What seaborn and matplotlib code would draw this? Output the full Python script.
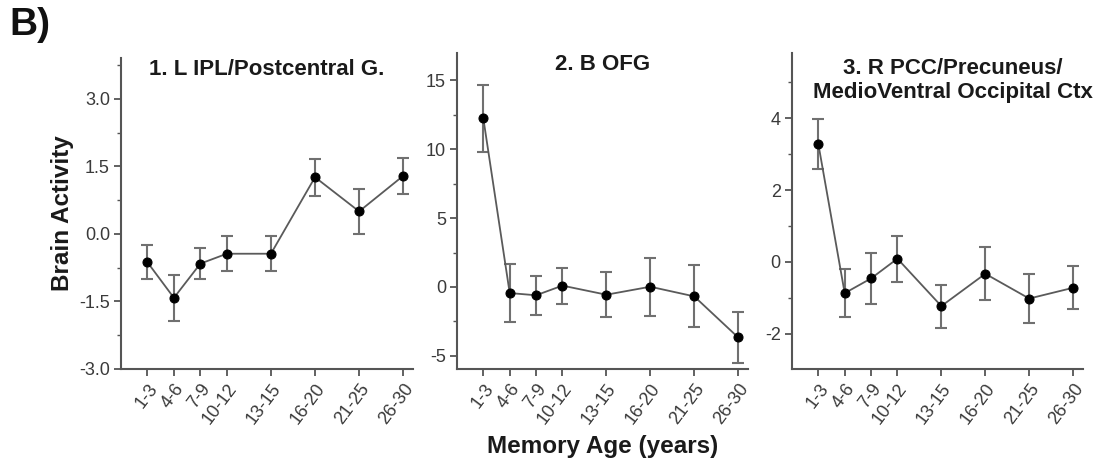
import numpy as np
import pandas as pd
import seaborn as sns
import matplotlib.pyplot as plt
from matplotlib.ticker import MultipleLocator

sns.set_style("white")
plt.rcParams['font.family'] = ['Liberation Sans', 'DejaVu Sans']

# Data
age_bins = ['1-3', '4-6', '7-9', '10-12', '13-15', '16-20', '21-25', '26-30']
age_pos = [2, 5, 8, 11, 16, 21, 26, 31]

ipl_mean = [-0.63, -1.42, -0.66, -0.44, -0.44, 1.26, 0.50, 1.29]
ipl_se = [0.38, 0.51, 0.35, 0.39, 0.39, 0.41, 0.50, 0.40]

ofg_mean = [12.23, -0.44, -0.60, 0.10, -0.56, 0.02, -0.68, -3.66]
ofg_se = [2.42, 2.10, 1.40, 1.30, 1.63, 2.10, 2.25, 1.88]

pcc_mean = [3.28, -0.87, -0.46, 0.09, -1.23, -0.33, -1.02, -0.72]
pcc_se = [0.70, 0.66, 0.72, 0.64, 0.60, 0.74, 0.68, 0.60]

titles = ['1. L IPL/Postcentral G.', '2. B OFG',
          '3. R PCC/Precuneus/\nMedioVentral Occipital Ctx']
ylims = [(-3.0, 3.91), (-5.95, 17.0), (-2.98, 5.82)]
yticks = [[-3.0, -1.5, 0.0, 1.5, 3.0], [-5, 0, 5, 10, 15], [-2, 0, 2, 4]]
yminor = [0.75, 2.5, 1.0]
yfmt = ['{:.1f}', '{:d}', '{:d}']

fig = plt.figure(figsize=(11.1, 4.65), dpi=100)
boxes = [[0.109, 0.2065, 0.263, 0.669],
         [0.4117, 0.2065, 0.262, 0.680],
         [0.7135, 0.2065, 0.262, 0.680]]

spine_c = '#555555'
tick_c = '#3a3a3a'

for i, (m, s) in enumerate([(ipl_mean, ipl_se), (ofg_mean, ofg_se), (pcc_mean, pcc_se)]):
    ax = fig.add_axes(boxes[i])
    df = pd.DataFrame({'pos': age_pos, 'mean': m, 'se': s})
    ax.errorbar(df['pos'], df['mean'], yerr=df['se'], fmt='none',
                ecolor='#707070', elinewidth=1.5, capsize=4, capthick=1.5, zorder=2)
    sns.lineplot(data=df, x='pos', y='mean', ax=ax, color='#5a5a5a', linewidth=1.3,
                 marker='o', markersize=6.5, markerfacecolor='black',
                 markeredgecolor='black', zorder=3)
    ax.set_xlim(-1, 32.1)
    ax.set_ylim(*ylims[i])
    ax.set_xticks(age_pos)
    ax.set_xticklabels(age_bins, rotation=53, ha='right', rotation_mode='anchor',
                       fontsize=13, color=tick_c)
    ax.set_yticks(yticks[i])
    ax.set_yticklabels([yfmt[i].format(v) for v in yticks[i]], fontsize=13,
                       color=tick_c)
    ax.yaxis.set_minor_locator(MultipleLocator(yminor[i]))
    ax.tick_params(axis='both', which='major', direction='out', length=5,
                   width=1.3, color=spine_c, left=True, bottom=True, pad=3)
    ax.tick_params(axis='y', which='minor', direction='out', length=3,
                   width=1.0, color=spine_c, left=True)
    for side in ['top', 'right']:
        ax.spines[side].set_visible(False)
    for side in ['left', 'bottom']:
        ax.spines[side].set_color(spine_c)
        ax.spines[side].set_linewidth(1.5)
    ax.set_xlabel('')
    ax.set_ylabel('')
    ax.text(0.5 if i < 2 else 0.553, 0.995 if i < 2 else 0.985, titles[i],
            transform=ax.transAxes, ha='center', va='top', fontsize=16,
            fontweight='bold', color='#1a1a1a', linespacing=1.2)
    if i == 0:
        ax.set_ylabel('Brain Activity', fontsize=17.5, fontweight='bold',
                      color='#1a1a1a')
        ax.yaxis.set_label_coords(-0.2, 0.5)
        ax.yaxis.label.set_va('center')
    if i == 1:
        ax.set_xlabel('Memory Age (years)', fontsize=17.5, fontweight='bold',
                      color='#1a1a1a')
        ax.xaxis.set_label_coords(0.5, -0.245)
        ax.xaxis.label.set_va('center')

fig.text(0.008, 0.985, 'B)', fontsize=28, fontweight='bold', ha='left', va='top',
         color='#111111')

plt.savefig('out.png', dpi=100)
